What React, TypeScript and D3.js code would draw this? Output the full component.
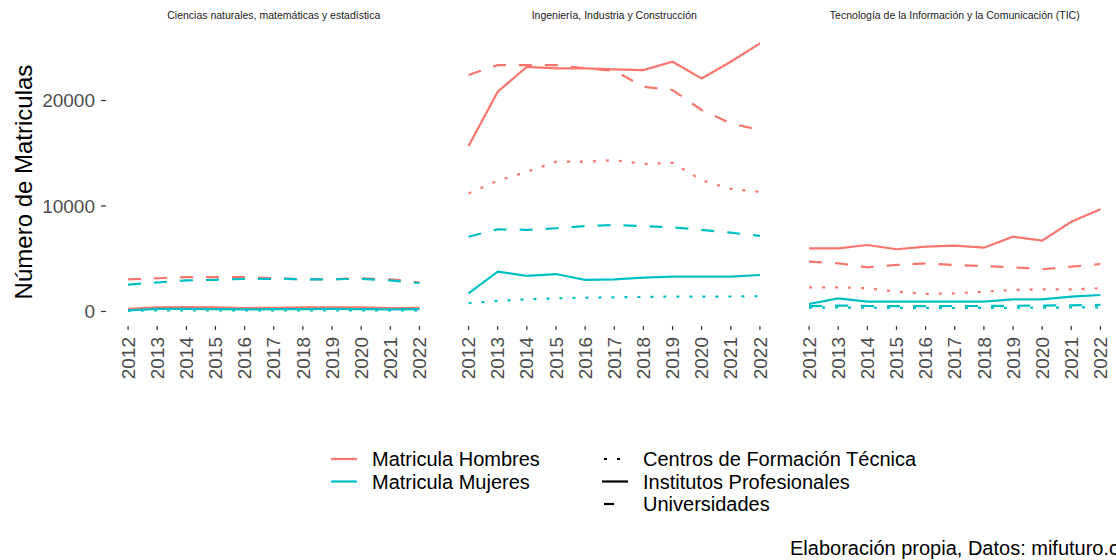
import React from "react";
import * as d3 from "d3";

const years = [2012, 2013, 2014, 2015, 2016, 2017, 2018, 2019, 2020, 2021, 2022];
const panels = [
  "Ciencias naturales, matemáticas y estadística",
  "Ingeniería, Industria y Construcción",
  "Tecnología de la Información y la Comunicación (TIC)",
];
const yTicks = [0, 10000, 20000];

// Panel 1: Ciencias naturales
const cienciasHombresCFT = [150, 180, 200, 190, 180, 180, 190, 190, 180, 170, 170];
const cienciasHombresIP = [250, 400, 420, 380, 330, 350, 380, 400, 380, 330, 350];
const cienciasHombresUniv = [3050, 3150, 3250, 3250, 3250, 3150, 3050, 3050, 3150, 3050, 2750];
const cienciasMujeresCFT = [80, 100, 110, 110, 100, 100, 110, 110, 100, 100, 100];
const cienciasMujeresIP = [100, 250, 250, 230, 200, 220, 230, 250, 230, 200, 230];
const cienciasMujeresUniv = [2550, 2750, 2950, 3000, 3100, 3100, 3050, 3050, 3100, 2950, 2700];

// Panel 2: Ingeniería
const ingHombresCFT = [11200, 12400, 13250, 14200, 14200, 14350, 13980, 14100, 12460, 11610, 11350];
const ingHombresIP = [15690, 20830, 23200, 23050, 23050, 22950, 22890, 23680, 22100, 23680, 25420];
const ingHombresUniv = [22420, 23360, 23360, 23360, 23050, 22830, 21310, 21000, 19100, 17840, 17200];
const ingMujeresCFT = [780, 1000, 1150, 1250, 1300, 1350, 1380, 1420, 1400, 1420, 1450];
const ingMujeresIP = [1720, 3780, 3370, 3550, 2990, 3050, 3210, 3300, 3300, 3300, 3460];
const ingMujeresUniv = [7090, 7790, 7740, 7890, 8100, 8200, 8100, 7980, 7740, 7470, 7160];

// Panel 3: TIC
const ticHombresCFT = [2290, 2290, 2200, 1880, 1660, 1720, 1880, 2040, 2100, 2100, 2200];
const ticHombresIP = [5990, 5990, 6300, 5900, 6140, 6240, 6050, 7090, 6710, 8510, 9690];
const ticHombresUniv = [4720, 4570, 4190, 4410, 4570, 4410, 4310, 4190, 4000, 4250, 4500];
const ticMujeresCFT = [350, 380, 360, 340, 330, 330, 340, 350, 360, 380, 400];
const ticMujeresIP = [710, 1250, 930, 930, 930, 930, 930, 1150, 1150, 1400, 1560];
const ticMujeresUniv = [500, 560, 520, 500, 500, 520, 520, 540, 560, 580, 620];

const sexLabels = ["Matricula Hombres", "Matricula Mujeres"];
const typeLabels = ["Centros de Formación Técnica", "Institutos Profesionales", "Universidades"];

const colors: Record<string, string> = { Hombres: "#F8766D", Mujeres: "#00BFC4" };
const dashes: Record<string, string | undefined> = {
  CFT: "3,10",
  IP: undefined,
  Univ: "13,13",
};

const panelSeries = [
  [
    { sex: "Hombres", type: "CFT", v: cienciasHombresCFT },
    { sex: "Hombres", type: "IP", v: cienciasHombresIP },
    { sex: "Hombres", type: "Univ", v: cienciasHombresUniv },
    { sex: "Mujeres", type: "CFT", v: cienciasMujeresCFT },
    { sex: "Mujeres", type: "IP", v: cienciasMujeresIP },
    { sex: "Mujeres", type: "Univ", v: cienciasMujeresUniv },
  ],
  [
    { sex: "Hombres", type: "CFT", v: ingHombresCFT },
    { sex: "Hombres", type: "IP", v: ingHombresIP },
    { sex: "Hombres", type: "Univ", v: ingHombresUniv },
    { sex: "Mujeres", type: "CFT", v: ingMujeresCFT },
    { sex: "Mujeres", type: "IP", v: ingMujeresIP },
    { sex: "Mujeres", type: "Univ", v: ingMujeresUniv },
  ],
  [
    { sex: "Hombres", type: "CFT", v: ticHombresCFT },
    { sex: "Hombres", type: "IP", v: ticHombresIP },
    { sex: "Hombres", type: "Univ", v: ticHombresUniv },
    { sex: "Mujeres", type: "CFT", v: ticMujeresCFT },
    { sex: "Mujeres", type: "IP", v: ticMujeresIP },
    { sex: "Mujeres", type: "Univ", v: ticMujeresUniv },
  ],
];

const FONT = "'Liberation Sans', Arial, Helvetica, sans-serif";
const W = 1116;
const H = 560;
const panelLeft = 113.5;
const panelW = 320.5;
const panelGap = 20;
const panelTop = 30;
const panelBottom = 324;

export default function App() {
  const allVals = panelSeries.flat().flatMap((s) => s.v);
  const vmin = d3.min(allVals)!;
  const vmax = d3.max(allVals)!;
  const pad = (vmax - vmin) * 0.05;
  const y = d3.scaleLinear().domain([vmin - pad, vmax + pad]).range([panelBottom, panelTop]);

  return (
    <svg
      width={W}
      height={H}
      style={{ position: "absolute", left: 0, top: 0, background: "#fff" }}
      fontFamily={FONT}
    >
      {/* y axis */}
      <text
        transform={`translate(24,182) rotate(-90)`}
        textAnchor="middle"
        fontSize={24}
        fill="#000"
        dy="0.35em"
      >
        Número de Matriculas
      </text>
      {yTicks.map((t) => (
        <g key={t}>
          <text x={95} y={y(t)} dy="0.35em" textAnchor="end" fontSize={19} fill="#4d4d4d">
            {t}
          </text>
          <line x1={101} x2={106} y1={y(t)} y2={y(t)} stroke="#333" strokeWidth={1.2} />
        </g>
      ))}

      {panels.map((title, pi) => {
        const x0 = panelLeft + pi * (panelW + panelGap);
        const span = years[years.length - 1] - years[0];
        const x = d3
          .scaleLinear()
          .domain([years[0] - span * 0.05, years[years.length - 1] + span * 0.05])
          .range([x0, x0 + panelW]);
        const line = d3
          .line<number>()
          .x((_, i) => x(years[i]))
          .y((d) => y(d));
        return (
          <g key={title}>
            <text x={x0 + panelW / 2} y={19} textAnchor="middle" fontSize={10.5} fill="#1a1a1a">
              {title}
            </text>
            {panelSeries[pi].map((s) => (
              <path
                key={s.sex + s.type}
                d={line(s.v) || ""}
                fill="none"
                stroke={colors[s.sex]}
                strokeWidth={2.2}
                strokeDasharray={dashes[s.type]}
              />
            ))}
            {years.map((yr) => (
              <g key={yr}>
                <line x1={x(yr)} x2={x(yr)} y1={panelBottom + 2} y2={panelBottom + 6} stroke="#333" strokeWidth={1.2} />
                <text
                  transform={`translate(${x(yr)},${panelBottom + 13}) rotate(-90)`}
                  textAnchor="end"
                  dy="0.35em"
                  fontSize={19}
                  fill="#4d4d4d"
                >
                  {yr}
                </text>
              </g>
            ))}
          </g>
        );
      })}

      {/* legend: sex */}
      {sexLabels.map((lab, i) => {
        const cy = 459 + i * 22.5;
        return (
          <g key={lab}>
            <line x1={331} x2={357} y1={cy} y2={cy} stroke={i === 0 ? colors.Hombres : colors.Mujeres} strokeWidth={2.2} />
            <text x={372} y={cy} dy="0.35em" fontSize={20} fill="#000">
              {lab}
            </text>
          </g>
        );
      })}
      {/* legend: type */}
      {typeLabels.map((lab, i) => {
        const cy = 459 + i * 22.5;
        const key = ["CFT", "IP", "Univ"][i];
        return (
          <g key={lab}>
            {key === "CFT" && (
              <line x1={604} x2={624} y1={cy} y2={cy} stroke="#000" strokeWidth={2.2} strokeDasharray="3,10" />
            )}
            {key === "IP" && <line x1={602} x2={628} y1={cy} y2={cy} stroke="#000" strokeWidth={2.2} />}
            {key === "Univ" && <line x1={604} x2={614} y1={cy} y2={cy} stroke="#000" strokeWidth={2.2} />}
            <text x={643} y={cy} dy="0.35em" fontSize={20} fill="#000">
              {lab}
            </text>
          </g>
        );
      })}

      <text x={790} y={548} dy="0.35em" fontSize={20} fill="#000">
        Elaboración propia, Datos: mifuturo.cl
      </text>
    </svg>
  );
}
